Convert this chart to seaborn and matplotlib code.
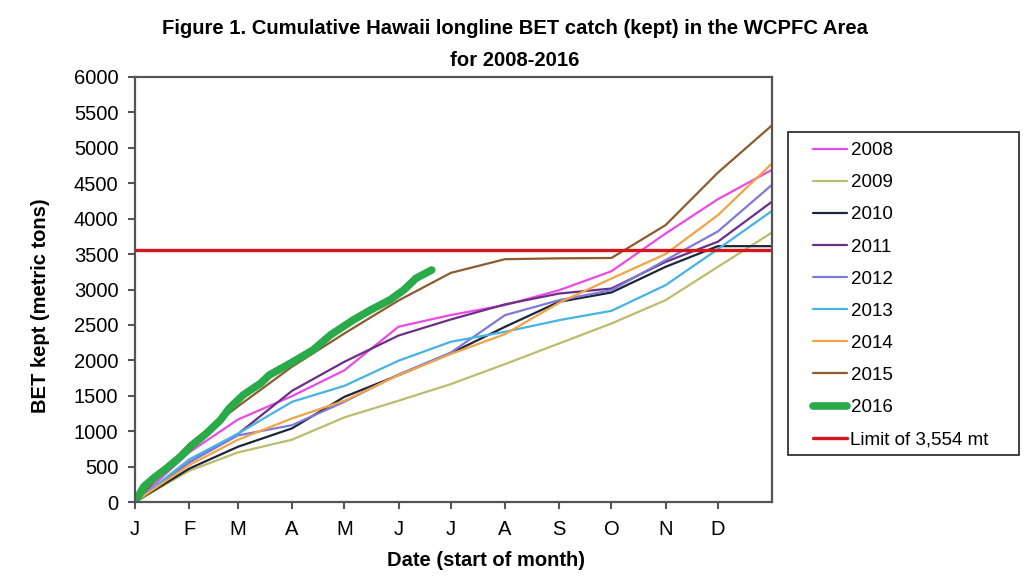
import numpy as np
import pandas as pd
import matplotlib
matplotlib.use("Agg")
import matplotlib.pyplot as plt
from matplotlib.patches import Rectangle
import seaborn as sns

# ---- data ----
month_days = [0, 31, 59, 90, 120, 151, 181, 212, 243, 273, 304, 334, 365]
month_labels = ["J", "F", "M", "A", "M", "J", "J", "A", "S", "O", "N", "D"]

y2008 = [0, 700, 1165, 1495, 1860, 2475, 2640, 2780, 2990, 3258, 3790, 4275, 4690]
y2009 = [0, 440, 700, 880, 1195, 1430, 1665, 1947, 2238, 2520, 2849, 3320, 3805]
y2010 = [0, 470, 780, 1040, 1485, 1790, 2100, 2473, 2826, 2958, 3320, 3612, 3612]
y2011 = [0, 560, 960, 1570, 1980, 2350, 2577, 2790, 2943, 3014, 3390, 3675, 4240]
y2012 = [0, 560, 940, 1085, 1415, 1800, 2110, 2638, 2849, 2990, 3414, 3820, 4478]
y2013 = [0, 600, 965, 1415, 1640, 1995, 2262, 2403, 2567, 2699, 3061, 3570, 4110]
y2014 = [0, 520, 880, 1180, 1430, 1790, 2090, 2370, 2812, 3155, 3500, 4050, 4780]
y2015 = [0, 820, 1350, 1910, 2380, 2845, 3235, 3428, 3440, 3445, 3909, 4650, 5318]

days2016 = [0, 5, 10.5, 18, 26, 33, 41, 49, 54, 62, 72, 77, 89, 102, 112, 125, 135, 146, 154, 161, 170]
y2016 = [0, 216, 334, 475, 640, 805, 970, 1158, 1323, 1511, 1676, 1793, 1958, 2146,
         2358, 2569, 2711, 2852, 2993, 3158, 3275]

limit = 3554

years = ["2008", "2009", "2010", "2011", "2012", "2013", "2014", "2015"]
series = [y2008, y2009, y2010, y2011, y2012, y2013, y2014, y2015]
colors = {"2008": "#ea4ae6", "2009": "#bcbc6e", "2010": "#1d2538",
          "2011": "#6b2f86", "2012": "#7f7ad8", "2013": "#45b3e3",
          "2014": "#f2a445", "2015": "#8e5a2e", "2016": "#2aab4a"}
limit_color = "#d4171c"

rows = []
for yr, vals in zip(years, series):
    for d, v in zip(month_days, vals):
        rows.append({"day": d, "kept": v, "year": yr})
df = pd.DataFrame(rows)
df16 = pd.DataFrame({"day": days2016, "kept": y2016, "year": "2016"})

# ---- style ----
sns.set_style("ticks")
plt.rcParams["font.family"] = ["Liberation Sans", "DejaVu Sans"]
plt.rcParams["text.color"] = "black"
plt.rcParams["xtick.color"] = "#555555"
plt.rcParams["ytick.color"] = "#555555"
plt.rcParams["xtick.labelcolor"] = "black"
plt.rcParams["ytick.labelcolor"] = "black"

fig = plt.figure(figsize=(10.24, 5.82), dpi=100)
ax = fig.add_axes([135 / 1024, 1 - 502 / 582, (772 - 135) / 1024, (502 - 77) / 582])

sns.lineplot(data=df, x="day", y="kept", hue="year", hue_order=years,
             palette=colors, linewidth=1.6, legend=False, ax=ax)
sns.lineplot(data=df16, x="day", y="kept", color=colors["2016"], linewidth=5.5,
             legend=False, ax=ax, solid_capstyle="round")
lim_line = ax.axhline(limit, color=limit_color, linewidth=2.4)

ax.set_xlim(0, 365)
ax.set_ylim(0, 6000)
ax.set_xticks(month_days[:-1])
ax.set_xticklabels(month_labels, fontsize=14.5)
ax.set_yticks(np.arange(0, 6001, 500))
ax.set_yticklabels([str(v) for v in range(0, 6001, 500)], fontsize=14.5)
ax.tick_params(axis="y", direction="out", length=5, width=1.5, pad=7)
ax.tick_params(axis="x", direction="out", length=5, width=1.5, pad=8)
for s in ax.spines.values():
    s.set_color("#555555")
    s.set_linewidth(1.6)
ax.set_xlabel("")
ax.set_ylabel("")

fig.text(486 / 1024, 1 - 561 / 582, "Date (start of month)", ha="center", va="center",
         fontsize=14.5, fontweight="bold")
fig.text(41 / 1024, 1 - 306 / 582, "BET kept (metric tons)", ha="center", va="center",
         rotation=90, fontsize=14.5, fontweight="bold")
fig.text(515 / 1024, 1 - 28 / 582,
         "Figure 1. Cumulative Hawaii longline BET catch (kept) in the WCPFC Area",
         ha="center", va="center", fontsize=14.6, fontweight="bold")
fig.text(515 / 1024, 1 - 60 / 582, "for 2008-2016", ha="center", va="center",
         fontsize=14.6, fontweight="bold")

# legend frame
fig.patches.append(Rectangle((788 / 1024, 1 - 455 / 582), 231 / 1024, 323 / 582,
                             transform=fig.transFigure, fill=False,
                             edgecolor="#333333", linewidth=1.3))
lines = ax.get_lines()
handles = lines[:9] + [lim_line]
labels = years + ["2016", "Limit of 3,554 mt"]
leg = fig.legend(handles, labels, loc="upper left",
                 bbox_to_anchor=(813 / 1024, 1 - 142 / 582),
                 fontsize=13.5, frameon=False, handlelength=1.8, handletextpad=0.2,
                 labelspacing=0.8, borderpad=0, borderaxespad=0)

fig.savefig("out.png", dpi=100)
